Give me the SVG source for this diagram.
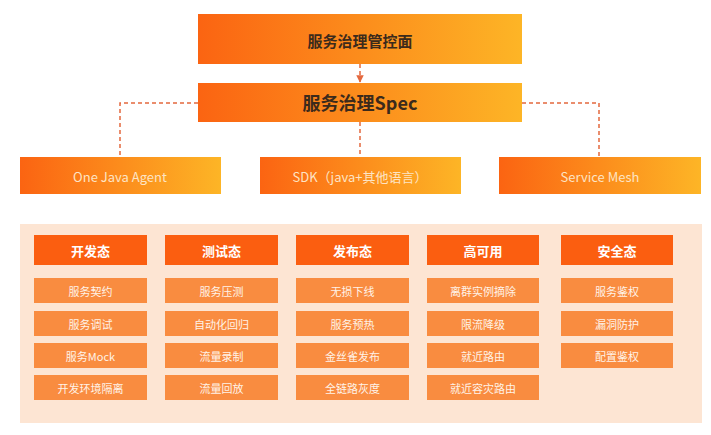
<svg xmlns="http://www.w3.org/2000/svg" width="711" height="435" viewBox="0 0 711 435">
<defs>
<linearGradient id="g" x1="0" y1="0" x2="1" y2="0">
<stop offset="0" stop-color="#fb6412"/>
<stop offset="1" stop-color="#fdb526"/>
</linearGradient>
<marker id="ah" viewBox="0 0 10 10" refX="9" refY="5" markerWidth="5" markerHeight="5" orient="auto">
<path d="M0,0 L10,5 L0,10 z" fill="#e4683e"/>
</marker>
<style>
text{font-family:"Noto Sans CJK SC","Noto Sans",sans-serif;text-anchor:middle;dominant-baseline:central}
.top{fill:url(#g)}
.dark{fill:#3b2a1c;font-weight:bold}
.mid{fill:#fde4c4;font-size:13px}
.hdr rect{fill:#fb5e10}
.hdr text{fill:#ffffff;font-size:13px;font-weight:bold}
.it rect{fill:#f98c40}
.it text{fill:#fff3e8;font-size:11px}
.c{fill:none;stroke:#e4683e;stroke-width:1.5;stroke-dasharray:4 3}
</style>
</defs>
<rect width="711" height="435" fill="#ffffff"/>
<g id="connectors">
<path class="c" d="M360,64 V82" marker-end="url(#ah)"/>
<path class="c" d="M198,103 H120 V156"/>
<path class="c" d="M360,122 V156"/>
<path class="c" d="M522,103 H599 V156"/>
</g>
<g id="control"><rect class="top" x="198" y="14" width="324" height="50"/><text class="dark" x="360" y="40" font-size="15">服务治理管控面</text></g>
<g id="spec"><rect class="top" x="198" y="83" width="324" height="39"/><text class="dark" x="360" y="102" font-size="18">服务治理Spec</text></g>
<g id="agent"><rect class="top" x="20" y="157" width="201" height="37"/><text class="mid" x="120" y="176">One Java Agent</text></g>
<g id="sdk"><rect class="top" x="260" y="157" width="201" height="37"/><text class="mid" x="360" y="176">SDK（java+其他语言）</text></g>
<g id="mesh"><rect class="top" x="499" y="157" width="202" height="37"/><text class="mid" x="600" y="176">Service Mesh</text></g>
<g id="panel"><rect x="20" y="224" width="682" height="199" fill="#fde5d3"/></g>
<g id="col1">
<g class="hdr"><rect x="34" y="235" width="113" height="30"/><text x="90.5" y="250">开发态</text></g>
<g class="it"><rect x="34" y="278" width="113" height="25"/><text x="90.5" y="290.5">服务契约</text></g>
<g class="it"><rect x="34" y="311" width="113" height="25"/><text x="90.5" y="323.5">服务调试</text></g>
<g class="it"><rect x="34" y="343" width="113" height="25"/><text x="90.5" y="355.5">服务Mock</text></g>
<g class="it"><rect x="34" y="375" width="113" height="25"/><text x="90.5" y="387.5">开发环境隔离</text></g>
</g>
<g id="col2">
<g class="hdr"><rect x="165" y="235" width="113" height="30"/><text x="221.5" y="250">测试态</text></g>
<g class="it"><rect x="165" y="278" width="113" height="25"/><text x="221.5" y="290.5">服务压测</text></g>
<g class="it"><rect x="165" y="311" width="113" height="25"/><text x="221.5" y="323.5">自动化回归</text></g>
<g class="it"><rect x="165" y="343" width="113" height="25"/><text x="221.5" y="355.5">流量录制</text></g>
<g class="it"><rect x="165" y="375" width="113" height="25"/><text x="221.5" y="387.5">流量回放</text></g>
</g>
<g id="col3">
<g class="hdr"><rect x="296" y="235" width="113" height="30"/><text x="352.5" y="250">发布态</text></g>
<g class="it"><rect x="296" y="278" width="113" height="25"/><text x="352.5" y="290.5">无损下线</text></g>
<g class="it"><rect x="296" y="311" width="113" height="25"/><text x="352.5" y="323.5">服务预热</text></g>
<g class="it"><rect x="296" y="343" width="113" height="25"/><text x="352.5" y="355.5">金丝雀发布</text></g>
<g class="it"><rect x="296" y="375" width="113" height="25"/><text x="352.5" y="387.5">全链路灰度</text></g>
</g>
<g id="col4">
<g class="hdr"><rect x="427" y="235" width="112" height="30"/><text x="483" y="250">高可用</text></g>
<g class="it"><rect x="427" y="278" width="112" height="25"/><text x="483" y="290.5">离群实例摘除</text></g>
<g class="it"><rect x="427" y="311" width="112" height="25"/><text x="483" y="323.5">限流降级</text></g>
<g class="it"><rect x="427" y="343" width="112" height="25"/><text x="483" y="355.5">就近路由</text></g>
<g class="it"><rect x="427" y="375" width="112" height="25"/><text x="483" y="387.5">就近容灾路由</text></g>
</g>
<g id="col5">
<g class="hdr"><rect x="561" y="235" width="112" height="30"/><text x="617" y="250">安全态</text></g>
<g class="it"><rect x="561" y="278" width="112" height="25"/><text x="617" y="290.5">服务鉴权</text></g>
<g class="it"><rect x="561" y="311" width="112" height="25"/><text x="617" y="323.5">漏洞防护</text></g>
<g class="it"><rect x="561" y="343" width="112" height="25"/><text x="617" y="355.5">配置鉴权</text></g>
</g>
</svg>
